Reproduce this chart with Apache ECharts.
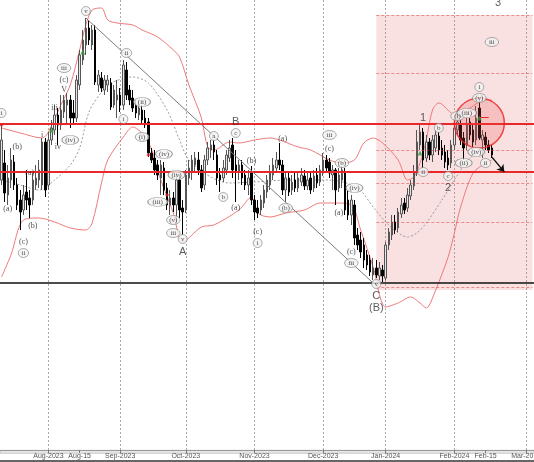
<!DOCTYPE html>
<html><head><meta charset="utf-8">
<script src="https://cdn.jsdelivr.net/npm/echarts/dist/echarts.min.js"></script>
<style>html,body{margin:0;padding:0;background:#fff}#c{width:534px;height:462px}</style>
</head><body><div id="c"></div>
<script>
// ---- candles (trading days from 2023-07-11) ----
const opens  = [320,337,305,320,338,315,300,290,308,302,300,315,320,315,358,315,360,370,385,375,388,395,400,387,382,415,440,455,472,455,470,415,422,410,415,417,395,400,405,395,430,410,402,395,385,390,382,378,347,342,335,322,332,312,295,302,295,320,292,290,322,328,335,340,330,315,340,350,355,345,325,322,330,342,355,335,328,335,325,315,328,300,292,290,297,308,315,325,332,340,335,310,322,310,320,312,318,324,314,322,312,325,318,328,340,338,325,330,312,320,328,300,285,295,265,260,255,245,240,225,232,224,230,222,255,265,278,272,286,297,292,304,314,327,355,368,342,358,345,352,364,352,348,342,337,355,370,375,362,355,378,370,360,392,360,363,355,352];
const closes = [360,307,322,340,315,295,288,305,300,295,320,322,330,358,310,360,372,385,375,390,400,400,382,382,420,445,460,472,460,470,418,425,412,420,420,393,410,405,395,435,405,400,392,387,392,380,375,347,340,330,325,335,310,295,302,295,320,290,288,325,332,340,342,330,312,340,352,355,348,322,320,332,345,352,330,328,335,322,315,322,300,288,287,300,310,320,328,335,340,335,310,322,308,318,312,322,325,314,320,310,324,317,330,340,332,327,330,310,325,330,290,285,300,262,255,248,240,235,228,232,225,232,224,255,268,278,270,288,295,290,305,315,328,358,368,340,358,345,360,365,350,345,338,335,355,372,378,360,352,375,365,358,382,362,365,355,350,345];
const highs  = [375,350,335,352,345,322,310,315,330,310,328,335,340,362,362,368,380,395,392,405,405,407,405,400,425,450,470,482,480,475,475,430,428,425,425,422,415,420,412,440,438,415,410,400,400,395,390,382,352,350,340,340,338,317,310,308,328,325,300,330,340,345,348,348,335,345,358,360,360,350,332,340,350,360,362,350,340,340,330,330,334,305,300,305,315,325,335,342,348,357,340,328,328,325,328,328,332,330,328,328,330,332,335,347,345,342,335,332,332,334,332,310,305,300,272,268,262,250,245,242,240,238,235,258,272,285,285,292,302,302,312,320,335,370,377,372,365,362,365,370,368,360,355,350,360,378,382,380,368,382,382,375,394,400,370,368,360,355];
const lows   = [315,298,295,312,310,290,270,285,290,282,295,310,312,310,303,310,355,365,355,370,382,375,372,377,378,410,435,445,455,450,415,408,408,405,408,390,392,382,388,390,400,395,388,382,380,375,372,343,337,325,320,305,305,290,285,288,278,282,265,287,315,320,328,325,308,310,335,342,340,315,308,318,325,338,322,298,320,315,310,305,295,280,282,285,292,302,310,320,328,330,305,298,304,305,308,308,314,310,310,306,308,312,314,324,327,322,310,295,308,312,285,280,275,255,250,242,232,230,224,220,222,220,218,220,250,260,266,268,282,286,288,300,310,324,350,332,338,340,338,348,345,340,332,330,332,350,365,355,340,350,360,353,355,360,342,350,347,342];
// ---- bands, read at selected bars: [bar index] / [value] ----
const upperIdx = [0,6,13,15,19,22,25,27,29,32,34,37,42,45,50,55,57,60,64,66,68,73,76,81,86,89,95,99,105,109,113,116,119,122,127,130,132,134,136,138,140,144,146,150,155,157];
const upperVal = [372,367,362,368,395,415,450,475,490,492,480,477,475,470,463,450,443,415,382,353,350,358,357,360,362,360,353,350,340,337,340,357,362,357,340,320,323,337,360,390,397,387,383,392,400,400];
const midIdx = [0,6,12,17,22,25,28,32,35,42,47,53,57,60,67,73,81,92,105,114,119,124,130,133,136,141,146,150,157];
const midVal = [320,315,310,320,335,352,388,408,417,423,417,390,360,340,323,317,318,320,320,312,293,275,263,267,277,300,325,342,355];
const lowIdx = [0,3,7,12,17,22,27,29,32,34,39,42,47,51,55,58,64,68,76,80,82,86,91,97,102,107,112,115,119,123,127,131,134,136,139,143,145,147,151,155,157];
const lowVal = [223,245,280,282,278,272,270,277,317,340,363,373,358,320,287,258,273,275,290,303,287,283,287,290,297,297,295,270,233,193,197,203,197,192,210,243,267,293,327,337,340];
// ---- levels ----
const redLevels = [376, 328];
const blackLevel = 217;
const zoneTop = 485, zoneBottom = 210, zoneStart = 120;
const zoneLevels = [485, 427, 350, 317, 278, 213];
// ---- tick labels ----
const tickDates  = ['2023-08-01','2023-08-15','2023-09-01','2023-10-02','2023-11-01','2023-12-01','2024-01-02','2024-02-01','2024-02-15','2024-03-01'];
const tickLabels = ['Aug-2023','Aug-15','Sep-2023','Oct-2023','Nov-2023','Dec-2023','Jan-2024','Feb-2024','Feb-15','Mar-2024'];
const gridDates  = ['2023-08-01','2023-09-01','2023-10-02','2023-11-01','2023-12-01','2024-01-02','2024-02-01','2024-03-01'];
// ---- wave labels [bar, value, text] ----
const circLabels = [[0,387,'i'],[7,247,'ii'],[22,360,'(iv)'],[20,432,'iii'],[27,489,'v'],[39,381,'i'],[40,447,'ii'],[45,398,'(ii)'],[45,363,'(i)'],[52,346,'(iv)'],[50,298,'(iii)'],[55,280,'(v)'],[55,267,'iii'],[56,325,'(iv)'],[58,261,'v'],[68,364,'a'],[71,303,'b'],[75,367,'c'],[82,257,'i'],[91,292,'(b)'],[105,365,'iii'],[109,337,'(b)'],[113,312,'(iv)'],[112,237,'iii'],[120,216,'v'],[135,328,'ii'],[140,372,'b'],[143,324,'c'],[146,384,'(i)'],[148,337,'(ii)'],[149,387,'(iii)'],[152,348,'(iv)'],[153,402,'(v)'],[153,413,'i'],[155,337,'ii'],[157,458,'iii']];
const plainLabels = [[5,353,'(b)'],[2,291,'(a)'],[9,327,'(a)'],[10,274,'(b)'],[7,258,'(c)'],[13,365,'i'],[17,392,'iii'],[18,353,'iv'],[20,410,'V'],[20,420,'(c)'],[75,292,'(a)'],[80,339,'(b)'],[82,268,'(c)'],[90,361,'(a)'],[105,351,'(c)'],[108,287,'(a)'],[112,248,'(c)']];
const bigLabels = [[58,248,'A'],[75,378,'B'],[120,204,'C'],[120,192,'(B)'],[135,382,'1'],[143,312,'2'],[159,497,'3']];
const greenMarks = [[16,370],[26,448],[134,347],[153,382]];
const redMarks = [[0,375],[47,345],[53,305]];
const focusCircle = [153, 377];
const arrowFrom = [157, 343], arrowTo = [161, 328];
const peakLine = [[27, 482], [119, 217]];

// categories: trading days up to last bar, then calendar days
const holidays = ['2023-12-25','2024-01-01'];
const lastBar = '2024-02-19';
const totalSlots = 171;
function fmt(d){return d.toISOString().slice(0,10);}
const categories = [];
let d = new Date(Date.UTC(2023,6,11));
while (true) {
  const s = fmt(d), wd = d.getUTCDay();
  if (wd !== 0 && wd !== 6 && !holidays.includes(s)) categories.push(s);
  if (s === lastBar) break;
  d.setUTCDate(d.getUTCDate() + 1);
}
while (categories.length < totalSlots) { d.setUTCDate(d.getUTCDate() + 1); categories.push(fmt(d)); }

const candles = opens.map((o, i) => [o, closes[i], lows[i], highs[i]]);
const pairs = (ix, vs) => ix.map((x, k) => [categories[x], vs[k]]);
const cat = p => [categories[p[0]], p[1]];
const lastCat = categories[totalSlots - 1];

const chart = echarts.init(document.getElementById('c'), null, {renderer: 'canvas'});
chart.setOption({
  animation: false,
  backgroundColor: '#ffffff',
  grid: {left: 0, right: 0, top: 0, bottom: 12, containLabel: false, outerBoundsMode: 'none'},
  graphic: [
    {type: 'rect', left: 0, top: 450, shape: {width: 534, height: 3}, style: {fill: '#e6e6e6', stroke: '#b0b0b0', lineWidth: 0.6}, z: 0, silent: true},
    {type: 'rect', left: 0, top: 460, shape: {width: 534, height: 2}, style: {fill: '#666'}, z: 0, silent: true}
  ],
  xAxis: {
    type: 'category', data: categories, boundaryGap: true,
    axisLine: {show: true, lineStyle: {color: '#9a9a9a', width: 1}},
    axisTick: {show: true, alignWithLabel: true, length: 3, interval: (i, v) => tickDates.includes(v), lineStyle: {color: '#777'}},
    axisLabel: {interval: (i, v) => tickDates.includes(v), formatter: v => tickLabels[tickDates.indexOf(v)] || '', fontSize: 7, color: '#555', margin: 3, fontFamily: 'Liberation Sans', hideOverlap: false},
    splitLine: {show: true, alignWithLabel: true, interval: (i, v) => gridDates.includes(v), lineStyle: {color: '#aaa', type: [2, 2], width: 1}}
  },
  yAxis: {type: 'value', min: 50, max: 500, show: false, splitLine: {show: false}},
  series: [
    { type: 'line', data: [], z: 1, silent: true,
      markArea: {silent: true, itemStyle: {color: 'rgba(225,90,90,0.18)'},
        data: [[{coord: [categories[zoneStart], zoneTop]}, {coord: [lastCat, zoneBottom]}]]},
      markLine: {silent: true, symbol: ['none','none'], label: {show: false},
        lineStyle: {color: 'rgba(215,70,70,0.55)', type: [3, 2], width: 1},
        data: zoneLevels.map(v => [{coord: [categories[zoneStart], v]}, {coord: [lastCat, v]}])}
    },
    { type: 'line', data: pairs(midIdx, midVal), smooth: 0.3, symbol: 'none', z: 2, silent: true,
      lineStyle: {color: '#9a9a9a', width: 1, type: [2, 2]} },
    { type: 'line', data: pairs(upperIdx, upperVal), smooth: 0.3, symbol: 'none', z: 2, silent: true,
      lineStyle: {color: '#f07a7a', width: 1} },
    { type: 'line', data: pairs(lowIdx, lowVal), smooth: 0.3, symbol: 'none', z: 2, silent: true,
      lineStyle: {color: '#f07a7a', width: 1} },
    { type: 'line', data: [], z: 3, silent: true,
      markLine: {silent: true, symbol: ['none','none'], label: {show: false}, data: [
        {yAxis: redLevels[0], lineStyle: {color: '#e8282a', width: 2, type: 'solid'}},
        {yAxis: redLevels[1], lineStyle: {color: '#e8282a', width: 2, type: 'solid'}},
        {yAxis: blackLevel, lineStyle: {color: '#111', width: 1.5, type: 'solid'}},
        [{coord: cat(peakLine[0]), lineStyle: {color: '#7a7a7a', width: 1, type: 'solid'}}, {coord: cat(peakLine[1])}]
      ]}
    },
    { type: 'candlestick', data: candles, z: 4, barWidth: 2, silent: true,
      itemStyle: {color: '#e6e6e6', color0: '#000000', borderColor: '#555555', borderColor0: '#000000', borderWidth: 1} },
    { type: 'scatter', data: [cat(focusCircle)], z: 5, symbolSize: 50, silent: true,
      itemStyle: {color: 'rgba(235,80,80,0.28)', borderColor: '#e82020', borderWidth: 1.5} },
    { type: 'line', data: [], z: 6, silent: true,
      markLine: {silent: true, label: {show: false}, data: [
        [{coord: cat(arrowFrom), symbol: 'none', lineStyle: {color: '#111', width: 1.2, type: 'solid'}}, {coord: cat(arrowTo), symbol: 'arrow', symbolSize: 7}],
        [{coord: [categories[153], 383], symbol: 'none', lineStyle: {color: '#e82020', width: 1, type: 'solid'}}, {coord: [categories[156], 383], symbol: 'none'}]
      ]}
    },
    { type: 'scatter', data: greenMarks.map(cat), z: 6, symbol: 'triangle', symbolSize: 5, silent: true, itemStyle: {color: '#3a9a3a'} },
    { type: 'scatter', data: redMarks.map(cat), z: 6, symbol: 'diamond', symbolSize: 4, silent: true, itemStyle: {color: '#e02020'} },
    { type: 'scatter', data: circLabels.map(l => [categories[l[0]], l[1], l[2]]), z: 7, silent: true,
      symbol: 'circle', symbolSize: (v, p) => [Math.max(9, p.data[2].length * 3.2 + 4), 9],
      itemStyle: {color: '#f2f2f2', borderColor: '#808080', borderWidth: 0.8},
      label: {show: true, position: 'inside', formatter: p => p.data[2], fontSize: 7, fontFamily: 'Liberation Serif', color: '#222'} },
    { type: 'scatter', data: plainLabels.map(l => [categories[l[0]], l[1], l[2]]), z: 7, silent: true,
      symbolSize: 0, label: {show: true, position: 'inside', formatter: p => p.data[2], fontSize: 8, fontFamily: 'Liberation Serif', color: '#222'} },
    { type: 'scatter', data: bigLabels.map(l => [categories[l[0]], l[1], l[2]]), z: 7, silent: true,
      symbolSize: 0, label: {show: true, position: 'inside', formatter: p => p.data[2], fontSize: 11, fontFamily: 'Liberation Sans', color: '#333'} }
  ]
});
</script></body></html>
